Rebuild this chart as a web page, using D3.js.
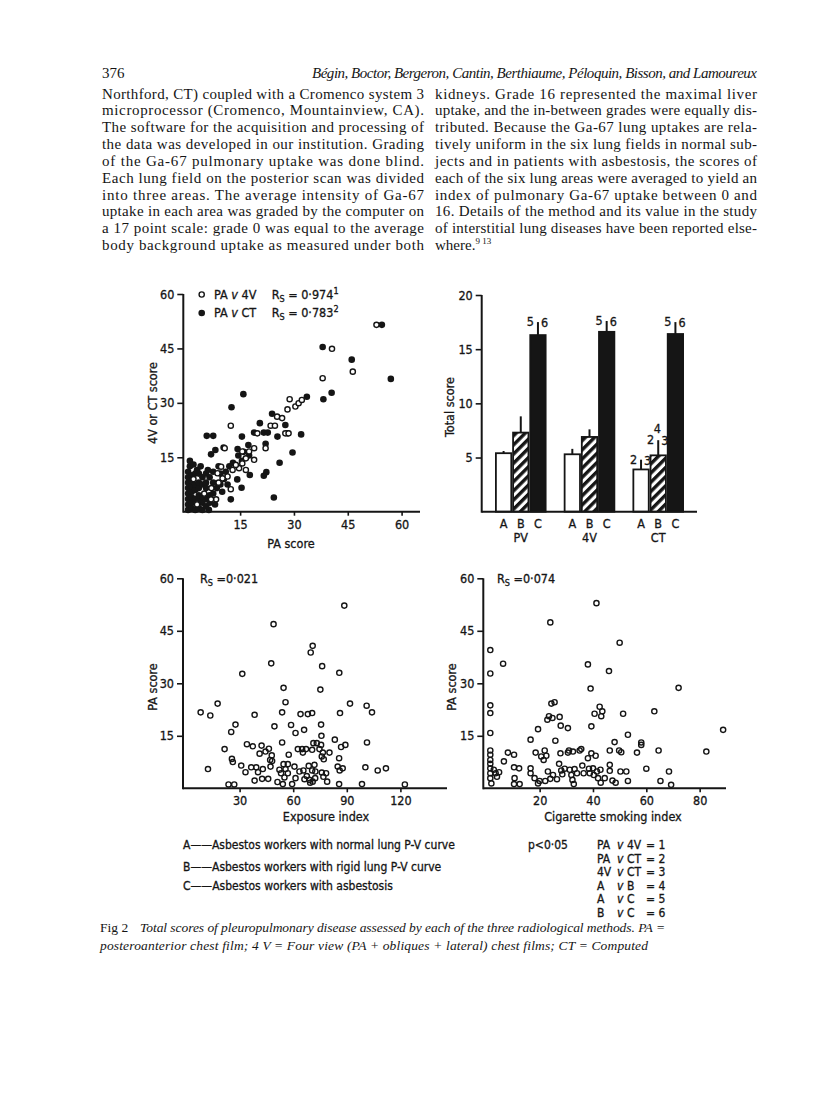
<!DOCTYPE html>
<html>
<head>
<meta charset="utf-8">
<script src="https://cdn.jsdelivr.net/npm/d3@7"></script>
<style>
  body { margin: 0; background: #fff; }
  svg text { fill: #151515; }
  .serif { font-family: "Liberation Serif", "Times New Roman", serif; }
  .sans { font-family: "DejaVu Sans Condensed", "DejaVu Sans", sans-serif; stroke: #151515; stroke-width: 0.3px; }
</style>
</head>
<body>
<svg id="page" width="816" height="1110"></svg>
<script>
// ---- page text ----
const pageNumber = "376";
const runningHead = "Bégin, Boctor, Bergeron, Cantin, Berthiaume, Péloquin, Bisson, and Lamoureux";
const leftColumn = [
  "Northford, CT) coupled with a Cromenco system 3",
  "microprocessor (Cromenco, Mountainview, CA).",
  "The software for the acquisition and processing of",
  "the data was developed in our institution. Grading",
  "of the Ga-67 pulmonary uptake was done blind.",
  "Each lung field on the posterior scan was divided",
  "into three areas. The average intensity of Ga-67",
  "uptake in each area was graded by the computer on",
  "a 17 point scale: grade 0 was equal to the average",
  "body background uptake as measured under both"
];
const rightColumn = [
  "kidneys. Grade 16 represented the maximal liver",
  "uptake, and the in-between grades were equally dis-",
  "tributed. Because the Ga-67 lung uptakes are rela-",
  "tively uniform in the six lung fields in normal sub-",
  "jects and in patients with asbestosis, the scores of",
  "each of the six lung areas were averaged to yield an",
  "index of pulmonary Ga-67 uptake between 0 and",
  "16. Details of the method and its value in the study",
  "of interstitial lung diseases have been reported else-"
];
const captionLines = [
  "Total scores of pleuropulmonary disease assessed by each of the three radiological methods. PA =",
  "posteroanterior chest film; 4 V = Four view (PA + obliques + lateral) chest films; CT = Computed"
];

// ---- panel 1: PA v 4V (open) and PA v CT (filled) ----
const scoreTicks = [15, 30, 45, 60];
const pa4v = [
  [53, 51.5], [40.6, 44.9], [38, 36.8], [46.4, 38.6], [12.4, 23.7], [10.7, 17.5], [28.8, 31],
  [28.2, 28.2], [30.4, 29], [31.3, 29.9], [32.2, 30.8], [25.3, 26.2], [26.7, 25.8], [23.5, 23.7],
  [24.7, 23.7], [27.6, 21.6], [28.5, 21.6], [19.8, 21.6], [22.1, 17.5], [18.9, 17.5], [17.5, 16.6],
  [15.6, 16.6], [16.6, 14.7], [18.9, 14.3], [15.6, 13.3], [16.6, 11.5], [14.7, 12], [13.8, 12.9],
  [12.9, 11.5], [11.5, 9.7], [10.1, 9.2], [12.4, 6.2], [8.3, 3.4], [6.9, 3.4], [9.7, 12.4],
  [8.7, 10.6], [3, 2], [5, 5], [7, 6.5], [9, 8], [2, 9]
];
const paCt = [
  [54.5, 51.5], [57, 36.6], [46.1, 41.9], [38, 45.4], [38.2, 31], [40.5, 32.8], [33.6, 31.7],
  [15.9, 32.4], [12.6, 28.8], [23.9, 27], [20.5, 24.4], [21.6, 21.8], [22.7, 21.8], [18.9, 21.8],
  [27.6, 23.9], [25.4, 20.7], [28.2, 21.6], [32, 21.3], [15.5, 20.7], [5.7, 20.9], [7.5, 20.9],
  [8.1, 17], [6.9, 15.8], [10.4, 17.7], [14.3, 17.3], [17.3, 18.4], [22.1, 18.7], [29.6, 16.3],
  [26, 13.5], [22.3, 10.9], [21.6, 9.9], [17.7, 10.1], [14.2, 8.9], [15.4, 6.6], [12.4, 3.4],
  [24.4, 3.9], [6.3, 0.5], [14.5, 15.5], [15.5, 14], [13, 13.5], [12, 12.5], [11, 11], [16, 16.5],
  [17.5, 15.5],
  [0.5, 0.5], [0.5, 2], [0.5, 3.5], [0.5, 5], [0.5, 6.5], [0.5, 8], [0.5, 9.5], [0.5, 11],
  [1.5, 1], [1.5, 2.5], [1.5, 4], [1.5, 5.5], [1.5, 7], [1.5, 8.5], [1.5, 10], [2.5, 0.5],
  [2.5, 3.5], [2.5, 6], [2.5, 7.5], [2.5, 10.5], [3.5, 1], [3.5, 3], [3.5, 4.5], [3.5, 6.5],
  [3.5, 8], [3.5, 10.5], [4.5, 0.5], [4.5, 2.5], [4.5, 4], [4.5, 7.5], [4.5, 9.5], [5.5, 1.5],
  [5.5, 3.5], [5.5, 6.5], [5.5, 8], [5.5, 10.5], [6.5, 2.5], [6.5, 4.5], [6.5, 9.5], [7.5, 5],
  [7.5, 8], [7.5, 11], [8.5, 6.5], [9.5, 7.5], [9.5, 10.5], [10.5, 9], [6, 11.5], [3, 11.5],
  [1, 12.5], [9, 12.5], [1, 14], [2, 13], [4, 12.5], [8, 2], [10, 5.5], [11.5, 7.5]
];

// ---- panel 2: total score bars ----
const methods = ["PV", "4V", "CT"];
const groupsABC = ["A", "B", "C"];
const barMeans = [[5.4, 7.3, 16.3], [5.3, 6.9, 16.6], [3.9, 5.2, 16.4]];
const barUpper = [[5.6, 8.8, 17.5], [5.8, 7.6, 17.6], [4.8, 6.6, 17.5]];
// significance marks: [method, group, left text, right text, top text]
const sigMarks = [
  ["PV", "C", "5", "6", ""], ["4V", "C", "5", "6", ""], ["CT", "C", "5", "6", ""],
  ["CT", "A", "2", "3", ""], ["CT", "B", "2", "3", "4"]
];
const totalTicks = [5, 10, 15, 20];

// ---- panel 3: exposure index v PA score ----
const exposureTicks = [30, 60, 90, 120];
const exposurePa = [
  [8.2, 21.7], [13.6, 20.8], [17.7, 24.2], [12.3, 5.5], [21.6, 11.2], [25.3, 16.1], [27.7, 18.2],
  [25.7, 8.4], [26.2, 7.5], [23.8, 1.1], [27, 1.1], [31.5, 32.7], [30.9, 6.5], [33.3, 4.6],
  [34.1, 12.6], [37.4, 12], [38.4, 21], [36.5, 6], [39.3, 6], [38.4, 2.2], [40.3, 4.6], [41.2, 9.9],
  [42.3, 12.2], [43, 5.5], [42.6, 2.7], [44.5, 10.5], [46.4, 11.3], [46, 2.7], [47.1, 8.1],
  [47.3, 6.2], [48, 9.4], [48.2, 7.8], [47.7, 35.7], [49, 46.9], [49.5, 17.7], [51.2, 1.8],
  [53.8, 13.1], [53.8, 21.7], [54.6, 28.7], [55.7, 24.6], [52.3, 5.3], [53.2, 4.3], [54.6, 6.9],
  [55.7, 5.5], [57, 6.9], [55.1, 3.1], [54.2, 1.2], [57.5, 9.6], [57, 4.3], [58.8, 18.1],
  [59.4, 1.2], [60.7, 6.2], [61.3, 15.8], [61.3, 2.9], [62.6, 11.2], [63.5, 4.8], [64.1, 21.2],
  [65, 11.2], [65.4, 10.2], [66.1, 16.7], [65.7, 5.1], [66.3, 2.6], [67.2, 11.2], [67.6, 3.5],
  [68.2, 21.2], [68.7, 6.4], [69.1, 2.4], [69.5, 1.6], [69.8, 38.8], [70.6, 21.5], [70.6, 11],
  [70.6, 5.1], [70.9, 40.7], [71.3, 12.9], [70.9, 1.9], [71.9, 6.7], [72.3, 2.9], [73.2, 12.9],
  [72.4, 4.8], [74.7, 11.2], [75.2, 28.2], [75.6, 18.2], [75.6, 12.4], [75.8, 15], [76.2, 34.9],
  [76, 9.1], [76, 4.5], [76.6, 10.2], [77.1, 8.3], [76.9, 3.3], [78.4, 4.3], [79, 1.9],
  [80.3, 10.2], [83.3, 13.9], [85.7, 8.6], [84.9, 6.2], [86, 5.1], [85.7, 1.2], [86.2, 21.5],
  [85.8, 33], [86.8, 11.8], [87.7, 5.7], [89.2, 12.4], [88.6, 52.2], [91.8, 24.2], [98.5, 1.2],
  [100.4, 6], [101.1, 23.6], [101.3, 13.1], [104.1, 21.7], [107.3, 5.1], [111.9, 5.7], [122.5, 1.1]
];

// ---- panel 4: cigarette smoking index v PA score ----
const smokingTicks = [20, 40, 60, 80];
const smokingPa = [
  [1.5, 39.5], [1.5, 32.8], [1.5, 23.7], [1.5, 21.5], [1.5, 15.8], [1.5, 10.8], [1.5, 9.6],
  [1.5, 8.1], [1.5, 7], [1.5, 5.7], [1.5, 4.3], [1.5, 2.9], [1.9, 1.4], [2.8, 5.3], [3.5, 4.3],
  [4, 3.3], [4.8, 4.6], [6.3, 35.6], [6.6, 7.7], [8.1, 10.2], [10.4, 9.6], [10.4, 6], [10.6, 2.9],
  [10.4, 1.2], [12.3, 5.7], [12.5, 1.2], [16.6, 13.9], [16.6, 5.7], [16.6, 4.3], [18.1, 2.9],
  [19.4, 16.9], [18.5, 10.2], [19.4, 1.4], [20, 2.1], [20.6, 9.1], [21.5, 8.1], [21.9, 10.8],
  [22.5, 9.3], [22.1, 2.1], [22.9, 19.6], [23.5, 20.6], [24, 47.4], [24.4, 24.2], [24.8, 20.1],
  [24, 2.7], [23.1, 4.8], [25, 3.8], [25.6, 24.6], [25.9, 13.6], [26.5, 2.6], [27.3, 7],
  [27.5, 20.4], [27.9, 17.9], [27.8, 10], [28.1, 5.1], [28.5, 4], [29.4, 5.6], [30.6, 17.2],
  [30.6, 10.2], [31, 10.8], [31.3, 5.3], [31.9, 3.8], [32.3, 2.4], [32.8, 1.2], [32.5, 10.5],
  [33.1, 5.5], [34, 4.3], [35, 10.8], [35.6, 11.2], [36, 6.5], [36.5, 4.3], [38.1, 35.4],
  [38.1, 8.6], [38.5, 5.6], [38.8, 4.3], [39.1, 28.5], [39.4, 17.7], [39.4, 10], [40, 5.7],
  [40.3, 3.8], [40.6, 21.3], [41, 9.3], [41.3, 52.9], [41.5, 4.8], [41.9, 2.9], [42.5, 23.3],
  [42.8, 5.3], [43.1, 20.6], [43.5, 22], [42.9, 1.6], [44.4, 2.9], [46, 33.5], [46.3, 10.8],
  [46.3, 6.7], [46.3, 5], [47.3, 2.2], [48.1, 13.2], [48.5, 1.6], [49.8, 10.8], [50, 41.6],
  [50.3, 4.8], [50.6, 10.3], [51.3, 21.3], [52.5, 4.8], [53.1, 15.3], [53.1, 2.1], [56.5, 10.2],
  [58.1, 12.4], [58.1, 13.1], [60, 5.6], [63, 22], [64.6, 10.8], [65.3, 2.1], [68.5, 4.8],
  [69.3, 1], [72.1, 28.7], [82.5, 10.5], [88.8, 16.7]
];

// ---- key below the figure ----
const keyLines = [
  "A\u2014\u2014Asbestos workers with normal lung P-V curve",
  "B\u2014\u2014Asbestos workers with rigid lung P-V curve",
  "C\u2014\u2014Asbestos workers with asbestosis"
];
const sigKey = [["PA", "4V", "1"], ["PA", "CT", "2"], ["4V", "CT", "3"], ["A", "B", "4"], ["A", "C", "5"], ["B", "C", "6"]];

const svg = d3.select("#page");
const ink = "#151515";

// ================= text of the page =================
const serif = svg.append("g").attr("class", "serif").attr("font-size", 15);
serif.append("text").attr("x", 102).attr("y", 78).text(pageNumber);
serif.append("text").attr("x", 312).attr("y", 78).attr("font-style", "italic")
  .attr("textLength", 445).attr("lengthAdjust", "spacing").text(runningHead);

const lineGap = 16.85, firstBase = 98.5;
leftColumn.forEach((t, i) => {
  serif.append("text").attr("x", 102).attr("y", firstBase + i * lineGap)
    .attr("textLength", 322).attr("lengthAdjust", "spacing").text(t);
});
rightColumn.forEach((t, i) => {
  serif.append("text").attr("x", 435).attr("y", firstBase + i * lineGap)
    .attr("textLength", 322).attr("lengthAdjust", "spacing").text(t);
});
let lastLine = serif.append("text").attr("x", 435).attr("y", firstBase + rightColumn.length * lineGap);
lastLine.append("tspan").text("where.");
lastLine.append("tspan").attr("font-size", 9).attr("dy", -6).text("9 13");

// ================= helpers =================
function sansText(g, x, y, txt, size) {
  return g.append("text").attr("class", "sans").attr("x", x).attr("y", y)
    .attr("font-size", size || 12.5).text(txt);
}

function styleAxis(ax) {
  ax.selectAll(".domain").remove();
  ax.selectAll(".tick line").attr("stroke", ink).attr("stroke-width", 1.6);
  ax.selectAll(".tick text").attr("class", "sans").attr("font-size", 12.5).attr("fill", ink);
}

function drawAxes(g, x, y, xEnd, xTicks, yTicks, xFmt) {
  const [y0, y1] = y.range();
  const x0 = x.range()[0];
  const axX = g.append("g").attr("transform", `translate(0,${y0})`)
    .call(d3.axisBottom(x).tickValues(xTicks).tickSize(4).tickSizeOuter(0).tickPadding(4).tickFormat(xFmt || d3.format("d")));
  styleAxis(axX);
  const axY = g.append("g").attr("transform", `translate(${x0 - 3},0)`)
    .call(d3.axisLeft(y).tickValues(yTicks).tickSize(6).tickSizeOuter(0).tickPadding(3).tickFormat(d3.format("d")));
  styleAxis(axY);
  g.append("line").attr("x1", x0 - 3).attr("x2", xEnd).attr("y1", y0).attr("y2", y0)
    .attr("stroke", ink).attr("stroke-width", 2);
  g.append("line").attr("x1", x0 - 3).attr("x2", x0 - 3).attr("y1", y0 + 1).attr("y2", y1)
    .attr("stroke", ink).attr("stroke-width", 2);
}

function rsLabel(g, x, y, value, sup) {
  const t = g.append("text").attr("class", "sans").attr("x", x).attr("y", y).attr("font-size", 12.5);
  t.append("tspan").text("R");
  t.append("tspan").attr("font-size", 9).attr("dy", 3).text("S");
  t.append("tspan").attr("dy", -3).text(value);
  if (sup) t.append("tspan").attr("font-size", 9).attr("dy", -5).text(sup);
  return t;
}

// ================= panel 1 =================
const p1 = svg.append("g");
const x1 = d3.scaleLinear().domain([0, 60]).range([186.3, 401.6]);
const y1 = d3.scaleLinear().domain([0, 60]).range([511.7, 294]);
drawAxes(p1, x1, y1, 420, scoreTicks, scoreTicks);

p1.selectAll("circle.ct").data(paCt).join("circle").attr("class", "ct")
  .attr("cx", d => x1(d[0])).attr("cy", d => y1(d[1])).attr("r", 3.3).attr("fill", ink);
p1.selectAll("circle.v4").data(pa4v).join("circle").attr("class", "v4")
  .attr("cx", d => x1(d[0])).attr("cy", d => y1(d[1])).attr("r", 2.6)
  .attr("fill", "#fff").attr("stroke", ink).attr("stroke-width", 1.4);

sansText(p1, x1(30) - 3, 548, "PA score").attr("text-anchor", "middle");
sansText(p1, 0, 0, "4V or CT score").attr("text-anchor", "middle")
  .attr("transform", "translate(157,403) rotate(-90)");

function legendRow(y, filled, other, rs, sup) {
  p1.append("circle").attr("cx", 201.7).attr("cy", y - 4).attr("r", filled ? 3.3 : 2.6)
    .attr("fill", filled ? ink : "#fff").attr("stroke", ink).attr("stroke-width", filled ? 0 : 1.4);
  const t = sansText(p1, 214, y, "");
  t.append("tspan").text("PA ");
  t.append("tspan").attr("font-style", "italic").text("v");
  t.append("tspan").text(" " + other);
  rsLabel(p1, 271.7, y, " = 0·" + rs, sup);
}
legendRow(298.5, false, "4V", "974", "1");
legendRow(317, true, "CT", "783", "2");

// ================= panel 2 =================
const p2 = svg.append("g");
const yB = d3.scaleLinear().domain([0, 20]).range([511.7, 295]);
const xM = d3.scaleBand().domain(methods).range([495, 684]).paddingInner(0.25).paddingOuter(0);
const xG = d3.scaleBand().domain(groupsABC).range([0, xM.bandwidth()]);

const defs = svg.append("defs");
const pat = defs.append("pattern").attr("id", "hatch").attr("patternUnits", "userSpaceOnUse")
  .attr("width", 6.5).attr("height", 6.5).attr("patternTransform", "rotate(45)");
pat.append("rect").attr("width", 6.5).attr("height", 6.5).attr("fill", "#fff");
pat.append("rect").attr("width", 3.4).attr("height", 6.5).attr("fill", ink);

const axB = p2.append("g").attr("transform", "translate(481.7,0)")
  .call(d3.axisLeft(yB).tickValues(totalTicks).tickSize(6).tickSizeOuter(0).tickPadding(3));
styleAxis(axB);
p2.append("line").attr("x1", 481.7).attr("x2", 481.7).attr("y1", 512.7).attr("y2", 295)
  .attr("stroke", ink).attr("stroke-width", 2);

const fills = { A: "#fff", B: "url(#hatch)", C: ink };
methods.forEach((m, mi) => {
  groupsABC.forEach((gname, gi) => {
    const bx = xM(m) + xG(gname), bw = xG.bandwidth();
    p2.append("rect").attr("x", bx + 0.9).attr("y", yB(barMeans[mi][gi]))
      .attr("width", bw - 1.8).attr("height", yB(0) - yB(barMeans[mi][gi]))
      .attr("fill", fills[gname]).attr("stroke", ink).attr("stroke-width", 1.8);
    p2.append("line").attr("x1", bx + bw / 2).attr("x2", bx + bw / 2)
      .attr("y1", yB(barMeans[mi][gi])).attr("y2", yB(barUpper[mi][gi]))
      .attr("stroke", ink).attr("stroke-width", 2);
    sansText(p2, bx + bw / 2, 528, gname).attr("text-anchor", "middle");
  });
  sansText(p2, xM(m) + xM.bandwidth() / 2, 541.5, m).attr("text-anchor", "middle");
});
p2.append("line").attr("x1", 481.7).attr("x2", 697).attr("y1", 511.7).attr("y2", 511.7)
  .attr("stroke", ink).attr("stroke-width", 2);

sigMarks.forEach(([m, gname, l, r, top]) => {
  const mi = methods.indexOf(m), gi = groupsABC.indexOf(gname);
  const cx = xM(m) + xG(gname) + xG.bandwidth() / 2;
  const ty = yB(barUpper[mi][gi]) + 4;
  sansText(p2, cx - 4, ty, l).attr("text-anchor", "end");
  sansText(p2, cx + 3, ty + 1, r);
  if (top) sansText(p2, cx - 1, ty - 11, top).attr("text-anchor", "middle");
});
sansText(p2, 0, 0, "Total score").attr("text-anchor", "middle")
  .attr("transform", "translate(454,407) rotate(-90)");

// ================= panel 3 =================
const p3 = svg.append("g");
const x3 = d3.scaleLinear().domain([0, 150]).range([186, 454]);
const y3 = d3.scaleLinear().domain([0, 60]).range([788.3, 578.3]);
drawAxes(p3, x3, y3, 447, exposureTicks, scoreTicks);
p3.selectAll("circle").data(exposurePa).join("circle")
  .attr("cx", d => x3(d[0])).attr("cy", d => y3(d[1])).attr("r", 2.6)
  .attr("fill", "none").attr("stroke", ink).attr("stroke-width", 1.4);
sansText(p3, 326, 821, "Exposure index").attr("text-anchor", "middle");
sansText(p3, 0, 0, "PA score").attr("text-anchor", "middle")
  .attr("transform", "translate(157,687) rotate(-90)");
rsLabel(p3, 200, 582.5, " =0·021");

// ================= panel 4 =================
const p4 = svg.append("g");
const x4 = d3.scaleLinear().domain([0, 100]).range([486.3, 753]);
const y4 = d3.scaleLinear().domain([0, 60]).range([788.3, 578.3]);
drawAxes(p4, x4, y4, 726, smokingTicks, scoreTicks);
p4.selectAll("circle").data(smokingPa).join("circle")
  .attr("cx", d => x4(d[0])).attr("cy", d => y4(d[1])).attr("r", 2.6)
  .attr("fill", "none").attr("stroke", ink).attr("stroke-width", 1.4);
sansText(p4, 613, 821, "Cigarette smoking index").attr("text-anchor", "middle");
sansText(p4, 0, 0, "PA score").attr("text-anchor", "middle")
  .attr("transform", "translate(456,687) rotate(-90)");
rsLabel(p4, 497, 582.5, " =0·074");

// ================= key =================
const key = svg.append("g");
keyLines.forEach((t, i) => sansText(key, 183, [849, 870.5, 889.5][i], t, 12));
sansText(key, 528, 849, "p<0·05", 12);
sigKey.forEach(([a, b, n], i) => {
  const yy = 849 + i * 13.6;
  sansText(key, 597, yy, a, 12);
  sansText(key, 617, yy, "v", 12).attr("font-style", "italic");
  sansText(key, 627, yy, b, 12);
  sansText(key, 646, yy, "= " + n, 12);
});

// ================= caption =================
const cap = svg.append("g").attr("class", "serif").attr("font-size", 13.5);
cap.append("text").attr("x", 100).attr("y", 932).text("Fig 2");
cap.append("text").attr("x", 140).attr("y", 932).attr("font-style", "italic")
  .attr("textLength", 525).attr("lengthAdjust", "spacing").text(captionLines[0]);
cap.append("text").attr("x", 100).attr("y", 950).attr("font-style", "italic")
  .attr("textLength", 548).attr("lengthAdjust", "spacing").text(captionLines[1]);
</script>
</body>
</html>
